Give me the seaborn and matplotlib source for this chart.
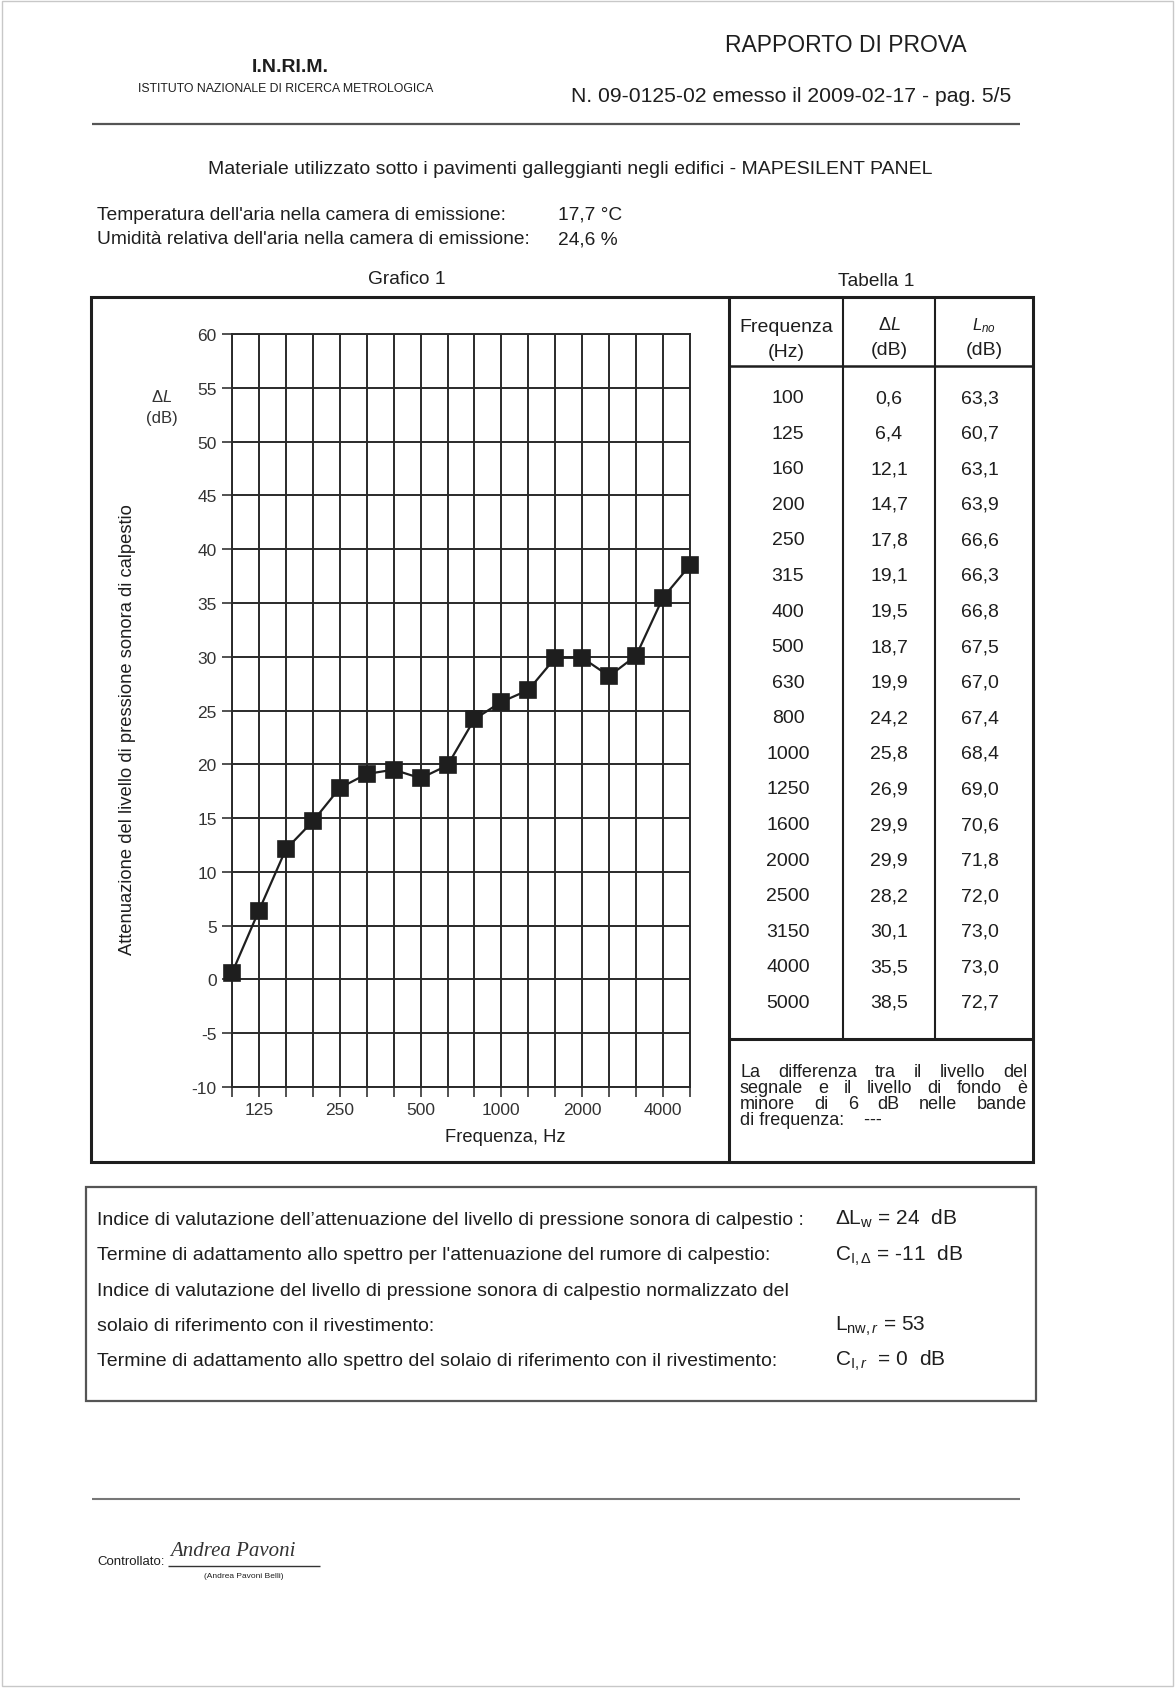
import numpy as np
import pandas as pd
import matplotlib
matplotlib.use("Agg")
import matplotlib.pyplot as plt
from matplotlib.patches import Rectangle
import seaborn as sns

# third-octave bands and measured values (Tabella 1)
freqs = [100, 125, 160, 200, 250, 315, 400, 500, 630, 800,
         1000, 1250, 1600, 2000, 2500, 3150, 4000, 5000]
delta_L = [0.6, 6.4, 12.1, 14.7, 17.8, 19.1, 19.5, 18.7, 19.9, 24.2,
           25.8, 26.9, 29.9, 29.9, 28.2, 30.1, 35.5, 38.5]
L_n0 = [63.3, 60.7, 63.1, 63.9, 66.6, 66.3, 66.8, 67.5, 67.0, 67.4,
        68.4, 69.0, 70.6, 71.8, 72.0, 73.0, 73.0, 72.7]
shown_ticks = ["125", "250", "500", "1000", "2000", "4000"]
y_ticks = [-10, -5, 0, 5, 10, 15, 20, 25, 30, 35, 40, 45, 50, 55, 60]

summary_labels = [
    "Indice di valutazione dell\u2019attenuazione del livello di pressione sonora di calpestio :",
    "Termine di adattamento allo spettro per l'attenuazione del rumore di calpestio:",
    "Indice di valutazione del livello di pressione sonora di calpestio normalizzato del",
    "solaio di riferimento con il rivestimento:",
    "Termine di adattamento allo spettro del solaio di riferimento con il rivestimento:",
]
summary_values = [
    r"$\Delta$L$_{\rm w}$ = 24  dB",
    r"C$_{\rm I,\Delta}$ = -11  dB",
    "",
    r"L$_{\rm nw,\mathit{r}}$ = 53",
    r"C$_{\rm I,\mathit{r}}$  = 0  dB",
]
note = ["La differenza tra il livello del", "segnale e il livello di fondo \u00e8",
        "minore di 6 dB nelle bande", "di frequenza:    ---"]

sns.set_theme(style="white")
plt.rcParams["font.family"] = ["Liberation Sans", "DejaVu Sans"]
plt.rcParams["mathtext.fontset"] = "custom"
plt.rcParams["mathtext.rm"] = "Liberation Sans"
plt.rcParams["mathtext.it"] = "Liberation Sans:italic"
plt.rcParams["mathtext.bf"] = "Liberation Sans:bold"
narrow = ["Liberation Sans Narrow", "Liberation Sans", "DejaVu Sans"]
ink = "#1e1e1e"
BODY = 13.8

W, H = 1176, 1690
fig = plt.figure(figsize=(W / 100, H / 100), dpi=100)
fig.patch.set_facecolor("white")

# page canvas in pixel coordinates
bg = fig.add_axes([0, 0, 1, 1])
bg.set_xlim(0, W)
bg.set_ylim(H, 0)
bg.axis("off")
renderer = fig.canvas.get_renderer()


def hline(y, x0, x1, lw=1.5, color=ink):
    bg.plot([x0, x1], [y, y], color=color, lw=lw, solid_capstyle="butt")


def vline(x, y0, y1, lw=1.5, color=ink):
    bg.plot([x, x], [y0, y1], color=color, lw=lw, solid_capstyle="butt")


def justified(x0, x1, y, line, **kw):
    words = line.split()
    items = [bg.text(x0, y, w, va="baseline", **kw) for w in words]
    widths = [t.get_window_extent(renderer).width for t in items]
    gap = (x1 - x0 - sum(widths)) / max(len(words) - 1, 1)
    x = x0
    for t, w in zip(items, widths):
        t.set_x(x)
        x += w + gap


bg.add_patch(Rectangle((2, 2), W - 5, H - 5, fill=False, ec="#c8c8c8", lw=1))

# header
bg.text(290, 68, "I.N.RI.M.", ha="center", va="center", fontsize=14, fontweight="bold", color=ink)
bg.text(286, 89, "ISTITUTO NAZIONALE DI RICERCA METROLOGICA", ha="center", va="center",
        fontsize=8.8, color=ink, family=narrow)
bg.text(846, 45, "RAPPORTO DI PROVA", ha="center", va="center", fontsize=16.5, color=ink)
bg.text(791, 96, "N. 09-0125-02 emesso il 2009-02-17 - pag. 5/5", ha="center", va="center",
        fontsize=15.2, color=ink)
hline(125, 92, 1020, lw=1.6, color="#555555")

bg.text(570, 170, "Materiale utilizzato sotto i pavimenti galleggianti negli edifici - MAPESILENT PANEL",
        ha="center", va="center", fontsize=14, color=ink)
bg.text(97, 215, "Temperatura dell'aria nella camera di emissione:", va="center", fontsize=BODY, color=ink)
bg.text(558, 215, "17,7 \u00b0C", va="center", fontsize=BODY, color=ink)
bg.text(97, 240, "Umidit\u00e0 relativa dell'aria nella camera di emissione:", va="center", fontsize=BODY, color=ink)
bg.text(558, 240, "24,6 %", va="center", fontsize=BODY, color=ink)
bg.text(407, 280, "Grafico 1", ha="center", va="center", fontsize=BODY, color=ink)
bg.text(876, 282, "Tabella 1", ha="center", va="center", fontsize=BODY, color=ink)

# main frame with chart and table
bg.add_patch(Rectangle((91, 298), 942, 865, fill=False, ec=ink, lw=2.2))
vline(729, 298, 1163, lw=2.2)
hline(367, 729, 1033, lw=1.8)
vline(843, 298, 1040, lw=1.5)
vline(935, 298, 1040, lw=1.5)
hline(1040, 729, 1033, lw=2.2)

bg.text(786, 332, "Frequenza", ha="center", va="baseline", fontsize=14, color=ink)
bg.text(786, 357, "(Hz)", ha="center", va="baseline", fontsize=14, color=ink)
bg.text(889, 330, r"$\Delta \mathit{L}$", ha="center", va="baseline", fontsize=13, color=ink)
bg.text(889, 355, "(dB)", ha="center", va="baseline", fontsize=14, color=ink)
bg.text(984, 330, r"$\mathit{L}_{\mathit{no}}$", ha="center", va="baseline", fontsize=12, color=ink)
bg.text(984, 355, "(dB)", ha="center", va="baseline", fontsize=14, color=ink)

row_y = np.linspace(396, 1001, len(freqs)) + 7
for yy, f, d, l in zip(row_y, freqs, delta_L, L_n0):
    bg.text(788, yy, str(f), ha="center", va="baseline", fontsize=14, color=ink)
    bg.text(889, yy, f"{d:.1f}".replace(".", ","), ha="center", va="baseline", fontsize=14, color=ink)
    bg.text(980, yy, f"{l:.1f}".replace(".", ","), ha="center", va="baseline", fontsize=14, color=ink)

note_font = dict(fontsize=13, color=ink)
for i, line in enumerate(note):
    yy = 1077 + i * 16
    if i < len(note) - 1:
        justified(740, 1027, yy, line, **note_font)
    else:
        bg.text(740, yy, line, va="baseline", **note_font)

# chart labels outside the axes
bg.text(127, 730, "Attenuazione del livello di pressione sonora di calpestio", rotation=90,
        ha="center", va="center", fontsize=13.2, color=ink)
bg.text(162, 397, r"$\Delta\mathit{L}$", ha="center", va="center", fontsize=12, color="#333333")
bg.text(162, 419, "(dB)", ha="center", va="center", fontsize=12, color="#333333", family=narrow)
bg.text(505, 1138, "Frequenza, Hz", ha="center", va="center", fontsize=13.2, color=ink, family=narrow)

# summary box
bg.add_patch(Rectangle((86, 1188), 950, 214, fill=False, ec="#555555", lw=1.6))
for i, (lab, val) in enumerate(zip(summary_labels, summary_values)):
    yy = 1225 + i * 35.3
    bg.text(97, yy, lab, va="baseline", fontsize=14, color=ink)
    if val:
        bg.text(835, yy, val, va="baseline", fontsize=15, color=ink)

# signature area
hline(1500, 92, 1020, lw=1.5, color="#777777")
bg.text(97, 1562, "Controllato:", va="center", fontsize=9.5, color=ink)
bg.text(170, 1552, "Andrea Pavoni", va="center", fontsize=15, style="italic", color="#333333",
        family=["Liberation Serif", "DejaVu Serif"])
hline(1567, 168, 320, lw=1.0, color="#333333")
bg.text(244, 1577, "(Andrea Pavoni Belli)", ha="center", va="center", fontsize=6, color=ink)

# chart
ax = fig.add_axes([232 / W, 1 - 1088 / H, (690 - 232) / W, (1088 - 335) / H])
df = pd.DataFrame({"freq": [str(f) for f in freqs], "dL": delta_L})
sns.pointplot(data=df, x="freq", y="dL", order=df["freq"], color=ink, markers="s",
              markersize=11, linewidth=1.6, errorbar=None, ax=ax)
for ln in ax.lines:
    ln.set_clip_on(False)
    ln.set_zorder(5)
ax.set_xlim(0, len(freqs) - 1)
ax.set_ylim(-10, 60)
ax.set_yticks(y_ticks)
ax.set_yticklabels([str(t) for t in y_ticks], family=narrow, fontsize=12.5, color="#333333")
ax.set_xticks(range(len(freqs)))
ax.set_xticklabels([s if s in shown_ticks else "" for s in df["freq"]], family=narrow,
                   fontsize=12.5, color="#333333")
ax.tick_params(axis="both", length=7, width=1.2, color="#333333", pad=4, left=True, bottom=True)
ax.grid(True, color="#2a2a2a", lw=1.4)
ax.set_axisbelow(True)
for sp in ax.spines.values():
    sp.set_color("#2a2a2a")
    sp.set_linewidth(1.4)
ax.set_xlabel("")
ax.set_ylabel("")
ax.set_facecolor("none")

fig.savefig("out.png", dpi=100)
